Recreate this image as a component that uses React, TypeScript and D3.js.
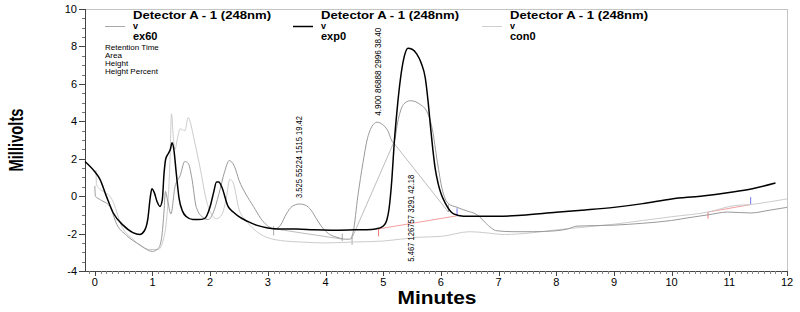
import React from "react";
import * as d3 from "d3";

// ---- data ----
const exp0T = [-0.17, 0, 0.09, 0.2, 0.32, 0.49, 0.66, 0.78, 0.86, 0.92, 0.96, 0.99, 1.03, 1.08, 1.13, 1.17, 1.2, 1.23, 1.27, 1.31, 1.34, 1.37, 1.41, 1.46, 1.52, 1.59, 1.7, 1.8, 1.9, 2.0, 2.06, 2.11, 2.15, 2.2, 2.31, 2.4, 2.5, 2.65, 2.8, 3.0, 3.2, 3.5, 3.8, 4.1, 4.5, 4.8, 4.92, 5.0, 5.06, 5.1, 5.15, 5.19, 5.24, 5.3, 5.36, 5.43, 5.5, 5.58, 5.66, 5.73, 5.78, 5.82, 5.86, 5.9, 5.95, 6.0, 6.08, 6.22, 6.39, 6.7, 7.0, 7.4, 8.0, 8.5, 9.0, 9.5, 10.0, 10.5, 11.0, 11.4, 11.8];
const exp0V = [1.85, 1.3, 0.9, 0.0, -0.9, -1.55, -1.95, -2.05, -1.85, -1.2, -0.1, 0.4, 0.2, -0.3, -0.55, -0.2, 1.2, 2.0, 2.25, 2.5, 2.85, 2.5, 1.3, -0.1, -0.8, -1.1, -1.25, -1.25, -1.2, -0.55, 0.2, 0.75, 0.75, 0.5, -0.55, -0.85, -1.1, -1.35, -1.55, -1.7, -1.75, -1.75, -1.8, -1.82, -1.8, -1.78, -1.72, -1.6, -1.3, -0.7, 0.9, 2.8, 4.6, 6.3, 7.4, 7.9, 7.85, 7.6, 7.1, 6.3, 5.0, 3.7, 2.5, 1.5, 0.7, 0.15, -0.4, -0.95, -1.07, -1.08, -1.08, -1.02, -0.86, -0.74, -0.6, -0.4, -0.15, 0.0, 0.2, 0.4, 0.7];

const ex60T = [0, 0.01, 0.1, 0.26, 0.38, 0.55, 0.78, 1.0, 1.1, 1.16, 1.2, 1.225, 1.26, 1.32, 1.39, 1.48, 1.56, 1.62, 1.68, 1.76, 1.88, 1.97, 2.05, 2.15, 2.25, 2.33, 2.42, 2.5, 2.62, 2.75, 2.88, 2.98, 3.12, 3.22, 3.32, 3.42, 3.55, 3.65, 3.75, 3.85, 3.95, 4.05, 4.2, 4.35, 4.42, 4.48, 4.56, 4.65, 4.72, 4.8, 4.89, 5.0, 5.07, 5.18, 5.26, 5.35, 5.47, 5.64, 5.76, 5.85, 5.94, 6.02, 6.13, 6.28, 6.46, 6.6, 6.67, 6.78, 6.97, 7.25, 7.6, 8.0, 8.2, 8.36, 9.0, 9.5, 10.0, 10.3, 10.63, 10.97, 11.37, 11.7, 12.0];
const ex60V = [0.55, 0.0, -0.2, -0.55, -1.5, -2.1, -2.6, -2.95, -2.8, -2.2, -0.8, 0.25, -0.2, -0.95, 0.5, 1.1, 1.85, 1.75, 1.0, -0.6, -1.15, -1.25, -0.9, 0.1, 1.3, 1.9, 1.6, 0.85, 0.1, -0.55, -1.2, -1.55, -1.75, -1.55, -0.95, -0.55, -0.42, -0.48, -0.75, -1.25, -1.7, -2.0, -2.2, -2.3, -2.3, -1.9, 0.0, 1.8, 3.0, 3.7, 3.95, 3.8, 3.55, 2.85, 4.1, 4.9, 5.1, 4.9, 4.5, 3.6, 1.8, 0.4, -0.4, -0.6, -0.8, -0.95, -1.1, -1.45, -1.85, -1.9, -1.9, -1.85, -1.75, -1.6, -1.55, -1.45, -1.3, -1.15, -1.0, -0.85, -0.9, -0.75, -0.6];

const con0T = [0.02, 0.03, 0.08, 0.17, 0.26, 0.33, 0.45, 0.66, 0.95, 1.1, 1.19, 1.25, 1.3, 1.33, 1.36, 1.39, 1.44, 1.48, 1.56, 1.62, 1.66, 1.71, 1.82, 1.94, 2.05, 2.11, 2.2, 2.28, 2.34, 2.4, 2.5, 2.62, 2.75, 2.98, 3.3, 3.56, 4.0, 4.5, 5.0, 5.6, 6.0, 6.5, 6.75, 7.1, 7.6, 8.0, 8.5, 9.0, 9.5, 10.0, 10.63, 11.1, 11.37, 11.7, 12.0];
const con0V = [1.4, 0.6, 0.4, 0.2, 0.0, -0.4, -1.5, -2.3, -2.85, -2.85, -2.3, -1.05, 1.6, 4.4, 3.2, 2.5, 3.2, 3.6, 3.5, 4.2, 3.9, 3.2, 1.6, -0.3, -1.1, -1.2, -1.0, -0.1, 0.9, 0.7, -0.7, -1.3, -1.75, -2.2, -2.4, -2.45, -2.5, -2.45, -2.4, -2.2, -2.15, -1.9, -1.95, -2.05, -1.95, -1.8, -1.65, -1.5, -1.3, -1.1, -0.85, -0.5, -0.45, -0.3, -0.15];

// integration baselines [t1, v1, t2, v2]
const grayBaselines = [
  [3.12, -1.75, 4.3, -2.3],
  [4.45, -2.3, 5.18, 2.85],
  [5.18, 2.85, 6.13, -0.85],
];
const grayTicks = [[3.1, -1.6, -2.1], [4.29, -2.0, -2.4], [4.46, -2.2, -2.6], [6.13, -0.45, -0.85]];
const redBaselines = [[4.92, -1.75, 6.28, -1.05], [10.63, -0.85, 11.37, -0.45]];
const redTicks = [[4.92, -1.75, -2.15], [10.63, -0.85, -1.2]];
const blueTicks = [[6.28, -0.65, -1.05], [11.37, -0.05, -0.45]];

const peakLabels = [
  { t: 3.525, v: -0.1, text: "3.525  55224  1515  19.42", len: 82 },
  { t: 4.9, v: 4.3, text: "4.900  86888  2996  38.40", len: 88 },
  { t: 5.467, v: -3.5, text: "5.467  126757  3291  42.18", len: 87 },
];

const yTicks = [-4, -2, 0, 2, 4, 6, 8, 10];
const xTicks = [0, 1, 2, 3, 4, 5, 6, 7, 8, 9, 10, 11, 12];

const legendItems = [
  { name: "ex60", color: "#a8a8a8", lx: 105, tx: 133, w: 1 },
  { name: "exp0", color: "#000000", lx: 293, tx: 321, w: 1.5 },
  { name: "con0", color: "#cfcfcf", lx: 482, tx: 510, w: 1 },
];
const infoLines = ["Retention Time", "Area", "Height", "Height Percent"];

export default function App() {
  const W = 800, H = 312;
  const x = d3.scaleLinear().domain([-0.17, 12]).range([85, 787]);
  const y = d3.scaleLinear().domain([-4, 10]).range([271, 9]);
  const line = d3
    .line<[number, number]>()
    .x((d) => x(d[0]))
    .y((d) => y(d[1]))
    .curve(d3.curveMonotoneX);
  const zip = (t: number[], v: number[]) => t.map((tt, i) => [tt, v[i]] as [number, number]);

  const yMinor = d3.range(-4, 10.01, 0.5).filter((v) => !yTicks.includes(v));
  const xMinor = d3.range(-0.1, 12.001, 0.1).filter((v) => Math.abs(v - Math.round(v)) > 0.01);

  const font = "Liberation Sans, Arial, sans-serif";

  return (
    <div style={{ position: "absolute", left: 0, top: 0 }}>
      <svg width={W} height={H} style={{ display: "block", background: "#fff" }} fontFamily={font}>
        {/* frame */}
        <line x1={85} x2={787} y1={9.5} y2={9.5} stroke="#c4c4c4" />
        <line x1={787.5} x2={787.5} y1={9} y2={271} stroke="#c4c4c4" />
        <line x1={85.5} x2={85.5} y1={9} y2={271} stroke="#444" />
        <line x1={85} x2={787} y1={271.5} y2={271.5} stroke="#444" />
        {yTicks.map((v) => (
          <g key={"yt" + v}>
            <line x1={79} x2={85} y1={Math.round(y(v)) + 0.5} y2={Math.round(y(v)) + 0.5} stroke="#444" />
            <text x={77} y={y(v) + 4} fontSize={11} textAnchor="end" fill="#000">{v}</text>
          </g>
        ))}
        {yMinor.map((v) => (
          <line key={"ym" + v} x1={82} x2={85} y1={Math.round(y(v)) + 0.5} y2={Math.round(y(v)) + 0.5} stroke="#777" />
        ))}
        {xTicks.map((v) => (
          <g key={"xt" + v}>
            <line x1={Math.round(x(v)) + 0.5} x2={Math.round(x(v)) + 0.5} y1={271} y2={276} stroke="#444" />
            <text x={x(v)} y={286} fontSize={11} textAnchor="middle" fill="#000">{v}</text>
          </g>
        ))}
        {xMinor.map((v) => (
          <line key={"xm" + v.toFixed(1)} x1={Math.round(x(v)) + 0.5} x2={Math.round(x(v)) + 0.5} y1={271} y2={274} stroke="#888" />
        ))}

        {/* axis titles */}
        <text x={437} y={304} fontSize={19} fontWeight="bold" textAnchor="middle" textLength={79} lengthAdjust="spacingAndGlyphs">Minutes</text>
        <text transform="translate(23,140) rotate(-90)" fontSize={20} fontWeight="bold" textAnchor="middle" textLength={63} lengthAdjust="spacingAndGlyphs">Millivolts</text>

        {/* baselines */}
        {grayBaselines.map((b, i) => (
          <line key={"gb" + i} x1={x(b[0])} y1={y(b[1])} x2={x(b[2])} y2={y(b[3])} stroke="#bdbdbd" />
        ))}
        {redBaselines.map((b, i) => (
          <line key={"rb" + i} x1={x(b[0])} y1={y(b[1])} x2={x(b[2])} y2={y(b[3])} stroke="#f2a0a0" />
        ))}
        {grayTicks.map((b, i) => (
          <line key={"gt" + i} x1={x(b[0])} x2={x(b[0])} y1={y(b[1])} y2={y(b[2])} stroke="#a8a8a8" />
        ))}
        {redTicks.map((b, i) => (
          <line key={"rt" + i} x1={x(b[0])} x2={x(b[0])} y1={y(b[1])} y2={y(b[2])} stroke="#ee7777" />
        ))}
        {blueTicks.map((b, i) => (
          <line key={"bt" + i} x1={x(b[0])} x2={x(b[0])} y1={y(b[1])} y2={y(b[2])} stroke="#7777ee" />
        ))}

        {/* traces */}
        <path d={line(zip(con0T, con0V)) || ""} fill="none" stroke="#cccccc" strokeWidth={1} />
        <path d={line(zip(ex60T, ex60V)) || ""} fill="none" stroke="#9a9a9a" strokeWidth={1} />
        <path d={line(zip(exp0T, exp0V)) || ""} fill="none" stroke="#000" strokeWidth={1.5} />

        {/* peak labels */}
        {peakLabels.map((p, i) => (
          <text
            key={"pl" + i}
            transform={`translate(${x(p.t) + 3.5},${y(p.v)}) rotate(-90)`}
            fontSize={9}
            textLength={p.len}
            lengthAdjust="spacingAndGlyphs"
            fill="#000"
          >
            {p.text}
          </text>
        ))}

        {/* legend */}
        {legendItems.map((l) => (
          <g key={l.name}>
            <text x={l.tx} y={19} fontSize={11} fontWeight="bold" textLength={138} lengthAdjust="spacingAndGlyphs">Detector A - 1 (248nm)</text>
            <line x1={l.lx} x2={l.lx + 20} y1={26.5} y2={26.5} stroke={l.color} strokeWidth={l.w} />
            <text x={l.tx} y={29} fontSize={9} fontWeight="bold">v</text>
            <text x={l.tx} y={40} fontSize={11} fontWeight="bold">{l.name}</text>
          </g>
        ))}
        {infoLines.map((s, i) => (
          <text key={s} x={105} y={49.5 + i * 8} fontSize={8}>{s}</text>
        ))}
      </svg>
    </div>
  );
}
